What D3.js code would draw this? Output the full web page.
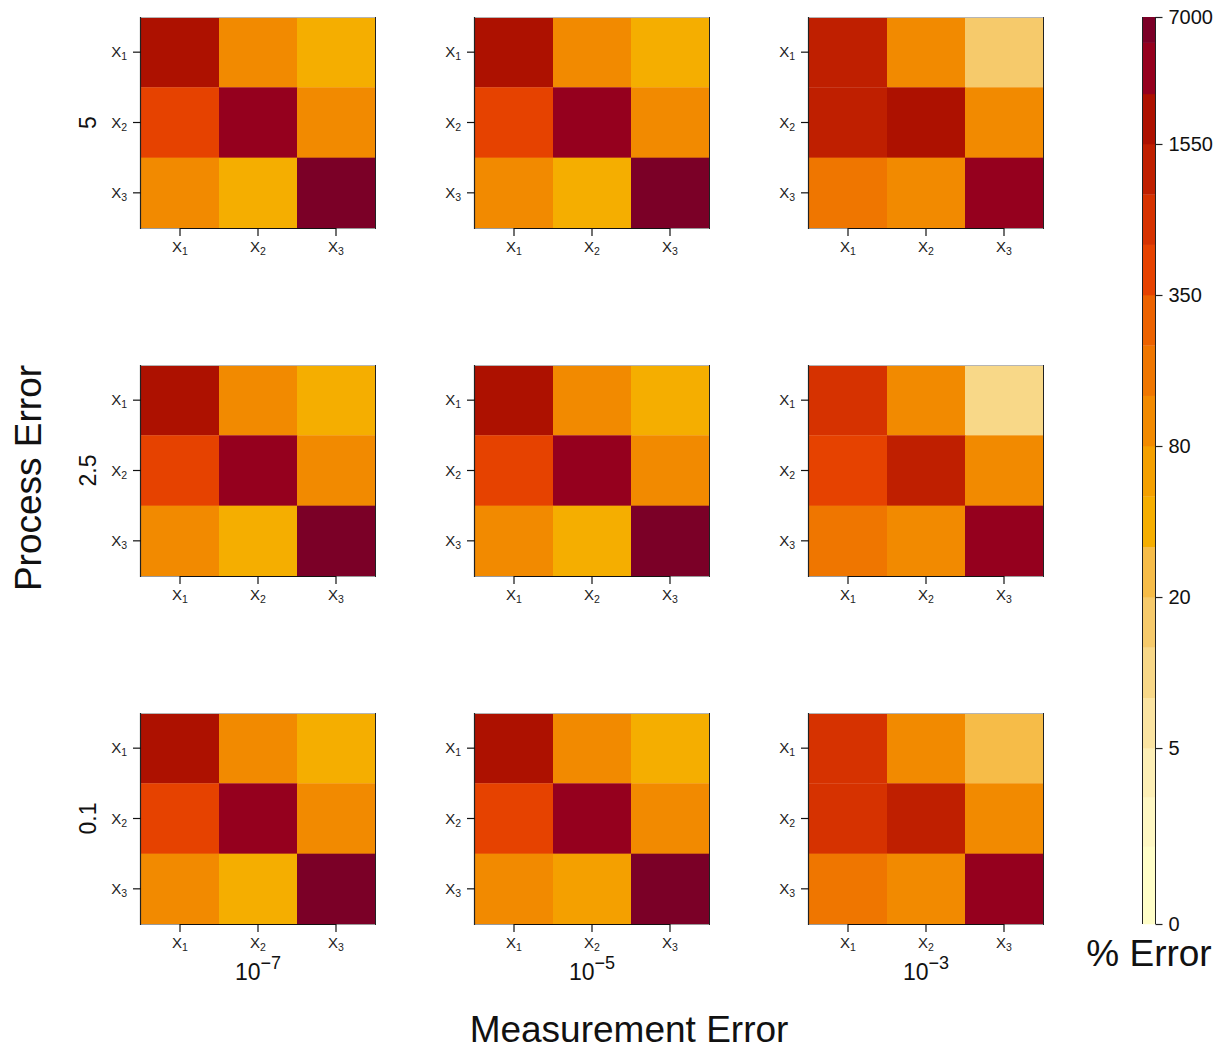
<!DOCTYPE html>
<html>
<head>
<meta charset="utf-8">
<script src="https://cdn.jsdelivr.net/npm/d3@7"></script>
<style>
  html, body { margin: 0; padding: 0; background: #fff; }
  svg { display: block; font-family: "Liberation Sans", Arial, sans-serif; }
</style>
</head>
<body>
<svg id="chart" width="1228" height="1049"></svg>
<script>
// ---------------- data ----------------
const processLevels = ["5", "2.5", "0.1"];          // rows (Process Error)
const measurementExponents = ["−7", "−5", "−3"];     // columns (Measurement Error = 10^exp)
const variables = ["1", "2", "3"];                   // X subscripts
const colorbarTicks = [0, 5, 20, 80, 350, 1550, 7000];
const bandBreaks = [0, 2.2, 3.6, 5, 10, 15, 20, 40, 60, 80, 170, 260, 350, 750, 1150, 1550, 3700, 5900, 7000];

// % error matrices [row variable][column variable]
const err_p5_m7   = [[2600, 120, 50], [550, 4800, 120], [120, 50, 6500]];
const err_p5_m5   = [[2500, 118, 48], [540, 4700, 125], [118, 52, 6400]];
const err_p5_m3   = [[1400, 120, 17], [1350, 2400, 125], [210, 130, 4600]];
const err_p25_m7  = [[2600, 120, 50], [560, 4800, 120], [120, 50, 6500]];
const err_p25_m5  = [[2550, 122, 49], [555, 4750, 122], [119, 51, 6450]];
const err_p25_m3  = [[950, 120, 12], [560, 1300, 125], [210, 120, 4700]];
const err_p01_m7  = [[2600, 120, 50], [550, 4800, 120], [120, 50, 6500]];
const err_p01_m5  = [[2600, 120, 50], [550, 4800, 120], [120, 70, 6500]];
const err_p01_m3  = [[950, 120, 30], [950, 1300, 125], [210, 125, 4700]];

// ---------------- styles ----------------
const palette = ["#fffec8", "#fef7c3", "#fdefb6", "#fbe4a2", "#f8d888", "#f6ca6b",
                 "#f6bc48", "#f5ae00", "#f4a000", "#f28a00", "#ef7600", "#ec6200",
                 "#e64200", "#d63200", "#bf1f00", "#ad1100", "#95001e", "#7b0027"];

const panelGrid = [
  [err_p5_m7, err_p5_m5, err_p5_m3],
  [err_p25_m7, err_p25_m5, err_p25_m3],
  [err_p01_m7, err_p01_m5, err_p01_m3]
];

const svg = d3.select("#chart");
const color = d3.scaleThreshold().domain(bandBreaks.slice(1, -1)).range(palette);

const panelW = 234, panelH = 211;
const panelX = d3.scaleOrdinal().domain(measurementExponents).range([141, 475, 809]);
const panelY = d3.scaleOrdinal().domain(processLevels).range([17, 365, 713]);
const cellX = d3.scaleBand().domain(variables).range([0, panelW]);
const cellY = d3.scaleBand().domain(variables).range([0, panelH]);

function xLabel(sel, sub) {
  sel.append("tspan").text("X");
  sel.append("tspan").attr("dy", 3).attr("font-size", 10.5).text(sub);
}

processLevels.forEach((p, ri) => {
  measurementExponents.forEach((m, ci) => {
    const mat = panelGrid[ri][ci];
    const g = svg.append("g").attr("transform", `translate(${panelX(m)},${panelY(p)})`);
    const cells = [];
    variables.forEach((rv, i) => variables.forEach((cv, j) => cells.push({ rv, cv, v: mat[i][j] })));
    g.selectAll("rect.cell").data(cells).join("rect")
      .attr("class", "cell")
      .attr("x", d => cellX(d.cv)).attr("y", d => cellY(d.rv))
      .attr("width", cellX.bandwidth() + 0.3).attr("height", cellY.bandwidth() + 0.3)
      .attr("fill", d => color(d.v));
    // frame
    g.append("line").attr("x1", 0).attr("x2", panelW).attr("y1", 0.5).attr("y2", 0.5)
      .attr("stroke", "#b5b5b5").attr("stroke-width", 1);
    g.append("line").attr("x1", 0).attr("x2", panelW).attr("y1", panelH + 0.5).attr("y2", panelH + 0.5)
      .attr("stroke", "#9a9a9a").attr("stroke-width", 1);
    g.append("line").attr("x1", panelW + 0.5).attr("x2", panelW + 0.5).attr("y1", 0).attr("y2", panelH + 1)
      .attr("stroke", "#222").attr("stroke-width", 1);
    g.append("line").attr("x1", -0.5).attr("x2", -0.5).attr("y1", 0).attr("y2", panelH + 1)
      .attr("stroke", "#222").attr("stroke-width", 1.2);

    // bottom axis
    const cx = v => cellX(v) + cellX.bandwidth() / 2;
    const cy = v => cellY(v) + cellY.bandwidth() / 2;
    g.append("line")
      .attr("x1", cx(variables[0])).attr("x2", cx(variables[variables.length - 1]))
      .attr("y1", panelH + 0.5).attr("y2", panelH + 0.5)
      .attr("stroke", "#111").attr("stroke-width", 1.2);
    variables.forEach(v => {
      g.append("line").attr("x1", cx(v)).attr("x2", cx(v))
        .attr("y1", panelH).attr("y2", panelH + 8).attr("stroke", "#111").attr("stroke-width", 1.2);
      const t = g.append("text").attr("x", cx(v)).attr("y", panelH + 24)
        .attr("text-anchor", "middle").attr("font-size", 15).attr("fill", "#222");
      xLabel(t, v);
      // left axis
      g.append("line").attr("x1", -8).attr("x2", 0).attr("y1", cy(v)).attr("y2", cy(v))
        .attr("stroke", "#111").attr("stroke-width", 1.2);
      const tl = g.append("text").attr("x", -14).attr("y", cy(v) + 5)
        .attr("text-anchor", "end").attr("font-size", 15).attr("fill", "#222");
      xLabel(tl, v);
    });
  });
});

// row labels (process error)
processLevels.forEach(p => {
  svg.append("text")
    .attr("transform", `translate(96,${panelY(p) + panelH / 2}) rotate(-90)`)
    .attr("text-anchor", "middle").attr("font-size", 23).attr("fill", "#111").text(p);
});
// column labels (measurement error)
measurementExponents.forEach(m => {
  const t = svg.append("text").attr("x", panelX(m) + panelW / 2).attr("y", 980)
    .attr("text-anchor", "middle").attr("font-size", 23).attr("fill", "#111");
  t.append("tspan").text("10");
  t.append("tspan").attr("dy", -11).attr("font-size", 18).text(m);
});

// axis titles
svg.append("text").attr("transform", "translate(41,478) rotate(-90)")
  .attr("text-anchor", "middle").attr("font-size", 37).attr("fill", "#111").text("Process Error");
svg.append("text").attr("x", 629).attr("y", 1042)
  .attr("text-anchor", "middle").attr("font-size", 37).attr("fill", "#111").text("Measurement Error");

// ---------------- colour bar ----------------
const barX = 1143, barW = 12, barTop = 17, barBottom = 924;
const barH = barBottom - barTop;
const tickFrac = [0, 0.194, 0.3605, 0.527, 0.6935, 0.860, 1];
const barScale = d3.scaleLinear().domain(colorbarTicks).range(tickFrac.map(f => barBottom - f * barH));
const bands = palette.map((c, i) => ({ lo: bandBreaks[i], hi: bandBreaks[i + 1], c }));
svg.append("g").selectAll("rect").data(bands).join("rect")
  .attr("x", barX).attr("width", barW)
  .attr("y", d => barScale(d.hi)).attr("height", d => barScale(d.lo) - barScale(d.hi) + 0.3)
  .attr("fill", d => d.c);
svg.append("line").attr("x1", barX - 0.5).attr("x2", barX - 0.5).attr("y1", barTop).attr("y2", barBottom)
  .attr("stroke", "#222").attr("stroke-width", 1);
const cbAxis = d3.axisRight(barScale).tickValues(colorbarTicks).tickSize(7).tickPadding(6)
  .tickFormat(d3.format("d"));
const cbG = svg.append("g").attr("transform", `translate(${barX + barW + 0.5},0)`).call(cbAxis);
cbG.select(".domain").attr("stroke", "#222").attr("d", `M0,${barTop}V${barBottom}`);
cbG.selectAll(".tick line").attr("stroke", "#222").attr("stroke-width", 1.2);
cbG.selectAll(".tick text").attr("font-size", 20).attr("fill", "#111")
  .attr("font-family", "Liberation Sans, Arial, sans-serif");
svg.append("text").attr("x", barX + barW / 2).attr("y", 966)
  .attr("text-anchor", "middle").attr("font-size", 37).attr("fill", "#111").text("% Error");
</script>
</body>
</html>
